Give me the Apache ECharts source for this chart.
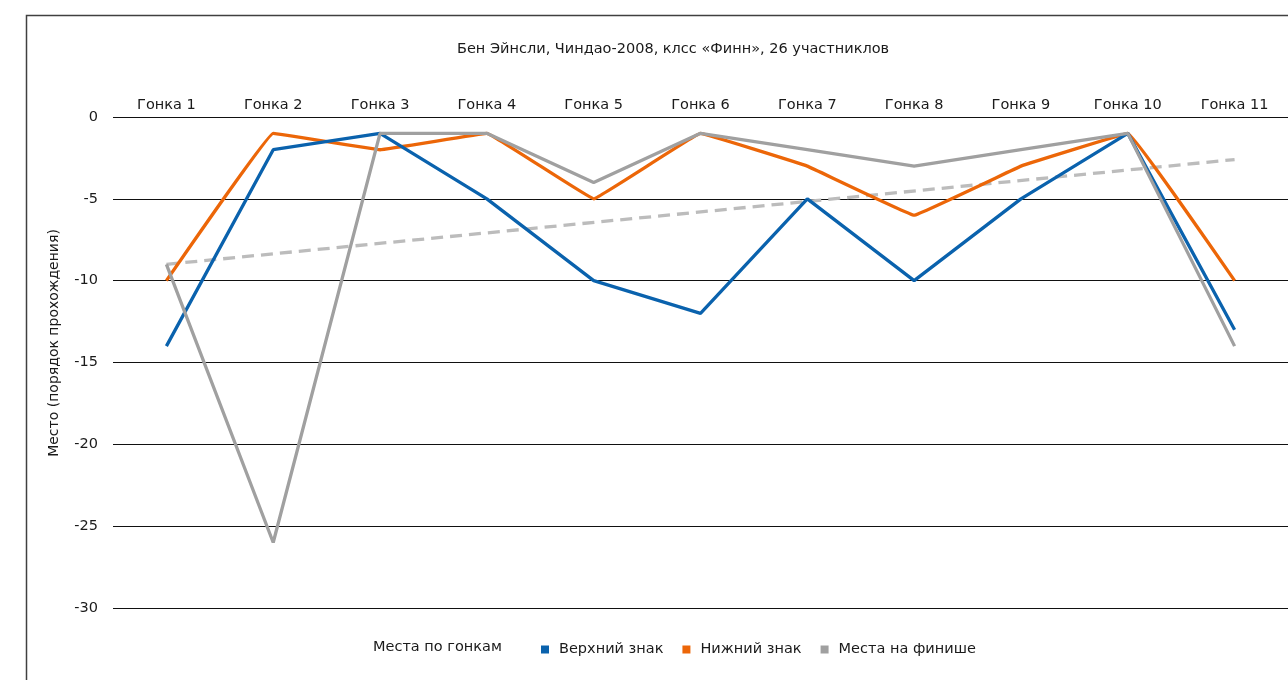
<!DOCTYPE html>
<html>
<head>
<meta charset="utf-8">
<script src="https://cdn.jsdelivr.net/npm/echarts@6/dist/echarts.min.js"></script>
<style>
html,body{margin:0;padding:0;background:#fff;}
#chart{width:1288px;height:680px;}
</style>
</head>
<body>
<div id="chart"></div>
<script>
const races = ['Гонка 1','Гонка 2','Гонка 3','Гонка 4','Гонка 5','Гонка 6','Гонка 7','Гонка 8','Гонка 9','Гонка 10','Гонка 11'];
const upperMark = [-14, -2, -1, -5, -10, -12, -5, -10, -5, -1, -13];
const lowerMark = [-10, -1, -2, -1, -5, -1, -3, -6, -3, -1, -10];
const finishPlaces = [-9, -26, -1, -1, -4, -1, -2, -3, -2, -1, -14];
const trendPlaces = [-9.0, null, null, null, null, null, null, null, null, null, -2.6];
const seriesNames = ['Верхний знак', 'Нижний знак', 'Места на финише'];
const titleText = 'Бен Эйнсли, Чиндао-2008, клсс «Финн», 26 участниклов';
const yAxisTitle = 'Место (порядок прохождения)';
const legendTitle = 'Места по гонкам';

const FONT = 'DejaVu Sans';
const FS = 14.5;
const TXT = '#1a1a1a';
const chart = echarts.init(document.getElementById('chart'), null, {renderer: 'canvas'});
chart.setOption({
  animation: false,
  backgroundColor: '#fff',
  textStyle: {fontFamily: FONT, color: TXT},
  title: {
    text: titleText, left: 452, top: 37,
    textStyle: {fontFamily: FONT, fontSize: FS, fontWeight: 'normal', color: TXT}
  },
  graphic: [
    {type: 'rect', left: 24, top: 13, shape: {width: 1300, height: 700},
     style: {fill: 'none', stroke: '#404040', lineWidth: 1.5}, silent: true, z: -1},
    {type: 'text', left: 373, top: 640,
     style: {text: legendTitle, font: FS + 'px "DejaVu Sans"', fill: TXT}},
    {type: 'text', x: 54, y: 343, rotation: Math.PI / 2,
     style: {text: yAxisTitle, font: '14px "DejaVu Sans"', fill: TXT, textAlign: 'center', textVerticalAlign: 'middle'}}
  ],
  legend: {
    data: seriesNames, left: 536, top: 637, itemWidth: 8, itemHeight: 8, itemGap: 19,
    icon: 'rect', textStyle: {fontFamily: FONT, fontSize: FS, color: TXT, padding: [0,0,0,5]}
  },
  grid: {left: 113, right: -11, top: 117, bottom: 72, containLabel: false},
  xAxis: {
    type: 'category', position: 'top', data: races, boundaryGap: true,
    axisLine: {show: false}, axisTick: {show: false},
    axisLabel: {fontFamily: FONT, fontSize: FS, color: TXT, margin: 4}
  },
  yAxis: {
    type: 'value', min: -30, max: 0, interval: 5,
    axisLine: {show: false}, axisTick: {show: false},
    axisLabel: {fontFamily: FONT, fontSize: FS, color: TXT, margin: 15},
    splitLine: {lineStyle: {color: '#111', width: 1.2}}
  },
  series: [
    {name: seriesNames[0], type: 'line', data: upperMark, symbol: 'none',
     lineStyle: {color: '#0a62ad', width: 3.3}, itemStyle: {color: '#0a62ad'}, z: 3},
    {name: seriesNames[1], type: 'line', data: lowerMark, symbol: 'none', smooth: 0.04,
     lineStyle: {color: '#ec6608', width: 3.3}, itemStyle: {color: '#ec6608'}, z: 2},
    {name: seriesNames[2], type: 'line', data: finishPlaces, symbol: 'none',
     lineStyle: {color: '#a0a0a0', width: 3.3}, itemStyle: {color: '#a0a0a0'}, z: 4},
    {name: 'trend', type: 'line', data: trendPlaces, connectNulls: true, symbol: 'none',
     lineStyle: {color: '#bcbcbc', width: 3.3, type: [12, 7]}, z: 1}
  ]
});
</script>
</body>
</html>
